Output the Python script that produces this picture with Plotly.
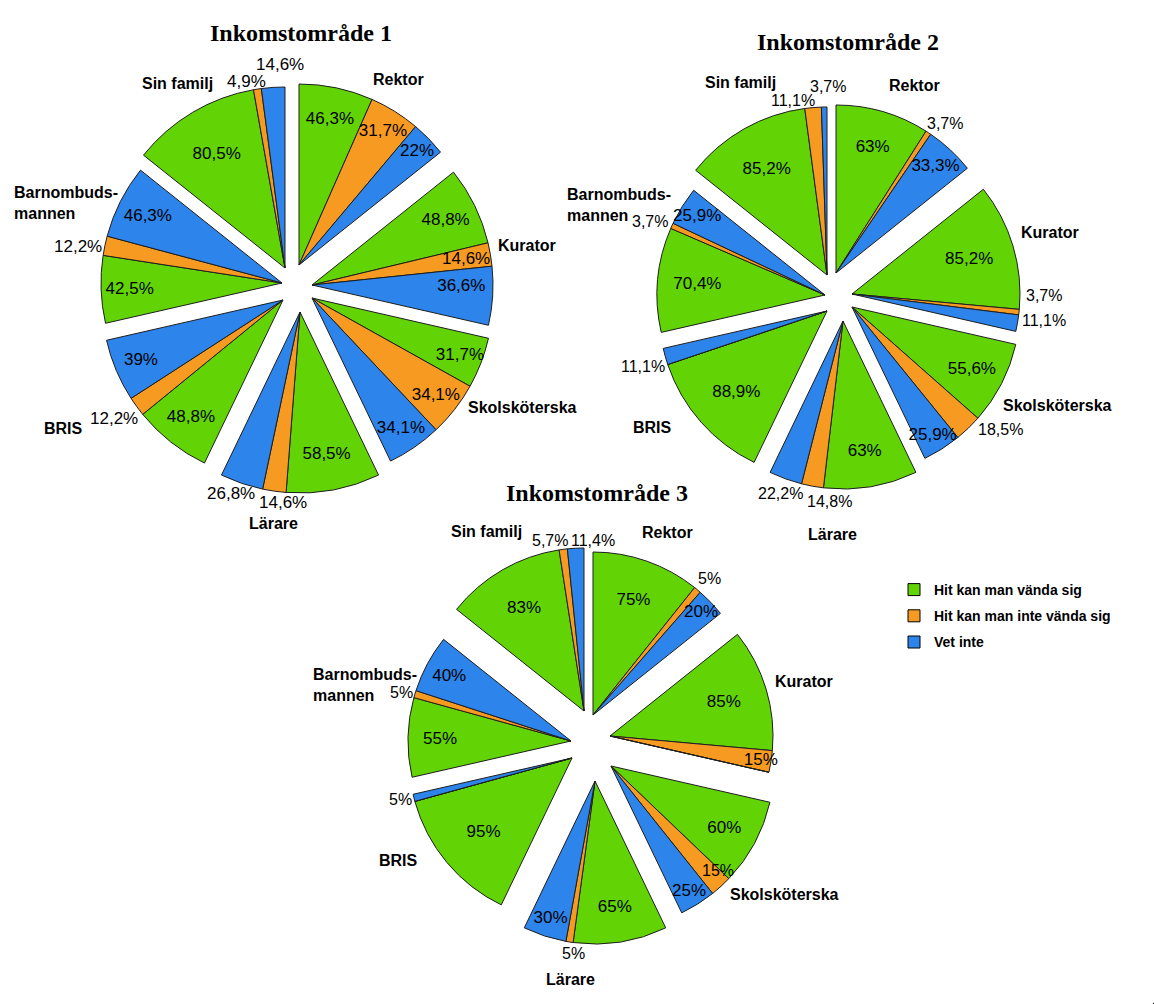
import plotly.graph_objects as go

W, H = 1154, 1004

# ---------------- data ----------------
categories = ["Rektor", "Kurator", "Skolsköterska", "Lärare", "BRIS",
              "Barnombudsmannen", "Sin familj"]
answers = ["Hit kan man vända sig", "Hit kan man inte vända sig", "Vet inte"]
titles = ["Inkomstområde 1", "Inkomstområde 2", "Inkomstområde 3"]

omr1_kan = [46.3, 48.8, 31.7, 58.5, 48.8, 42.5, 80.5]
omr1_kan_inte = [31.7, 14.6, 34.1, 14.6, 12.2, 12.2, 4.9]
omr1_vet_inte = [22, 36.6, 34.1, 26.8, 39, 46.3, 14.6]

omr2_kan = [63, 85.2, 55.6, 63, 88.9, 70.4, 85.2]
omr2_kan_inte = [3.7, 3.7, 18.5, 14.8, 0, 3.7, 11.1]
omr2_vet_inte = [33.3, 11.1, 25.9, 22.2, 11.1, 25.9, 3.7]

omr3_kan = [75, 85, 60, 65, 95, 55, 83]
omr3_kan_inte = [5, 15, 15, 5, 0, 5, 5.7]
omr3_vet_inte = [20, 0, 25, 30, 5, 40, 11.4]

# ---------------- style / layout ----------------
colors = ["#62D406", "#F79A22", "#2D84EB"]
edge = "#1e1e1e"
sans = "Liberation Sans, Arial, sans-serif"
serif = "Liberation Serif, Times New Roman, serif"

# per chart: wedge apex pixel positions (exploded sectors), radius, label placement.
# "placed": pixel centre for percentage labels positioned explicitly (outside / on edge),
# keyed by (category index, answer index).
charts = [
    dict(title=titles[0], series=(omr1_kan, omr1_kan_inte, omr1_vet_inte),
         radius=181, fs=17, title_pos=(301, 33),
         apex=[(299, 265), (312, 285), (312, 298), (300, 312), (283, 300), (282, 283), (285, 268)],
         placed={(6, 1): (246, 81), (6, 2): (280, 65), (3, 2): (231, 493), (3, 1): (283, 502),
                 (4, 1): (114, 418), (5, 1): (78, 246), (1, 1): (466, 258)},
         labels=[((398, 79), "center"), ((527, 245), "center"), ((522, 407), "center"),
                 ((273, 523), "center"), ((63, 428), "center"), ((12, 203), "left"),
                 ((177, 83), "center")]),
    dict(title=titles[1], series=(omr2_kan, omr2_kan_inte, omr2_vet_inte),
         radius=168, fs=16, title_pos=(848, 42),
         apex=[(836, 273), (852, 294), (852, 307), (843, 321), (827, 311), (825, 295), (827, 275)],
         placed={(0, 1): (945, 123), (1, 1): (1044, 296), (1, 2): (1044, 321),
                 (2, 1): (1000, 429), (3, 2): (780, 493), (3, 1): (829, 501),
                 (4, 2): (643, 366), (5, 1): (650, 221), (6, 1): (793, 100), (6, 2): (828, 86)},
         labels=[((914, 85), "center"), ((1050, 232), "center"), ((1057, 405), "center"),
                 ((832, 534), "center"), ((652, 427), "center"), ((565, 205), "left"),
                 ((740, 82), "center")]),
    dict(title=titles[2], series=(omr3_kan, omr3_kan_inte, omr3_vet_inte),
         radius=163, fs=16, title_pos=(597, 493),
         apex=[(593, 715), (610, 736), (611, 766), (595, 781), (572, 758), (571, 741), (584, 711)],
         placed={(0, 1): (709, 578), (3, 1): (573, 953), (4, 2): (400, 799), (5, 1): (401, 692),
                 (6, 1): (550, 540), (6, 2): (593, 540), (2, 1): (718, 870)},
         labels=[((667, 532), "center"), ((804, 681), "center"), ((784, 894), "center"),
                 ((570, 979), "center"), ((398, 860), "center"), ((311, 685), "left"),
                 ((486, 531), "center")]),
]


def fmt(v):
    if v == 0:
        return ""
    return f"{v:g}".replace(".", ",") + "%"


fig = go.Figure()
annotations = []
n = len(categories)

for ch in charts:
    R = ch["radius"]
    for k, cat in enumerate(categories):
        vals = [s[k] for s in ch["series"]]
        total = sum(vals)
        values = vals + [total * (n - 1)]          # invisible rest of the circle
        inside_text = []
        for j, v in enumerate(vals):
            if (k, j) in ch["placed"]:
                inside_text.append("")
                px, py = ch["placed"][(k, j)]
                annotations.append(dict(text=fmt(v), x=px / W, y=1 - py / H,
                                        xref="paper", yref="paper", showarrow=False,
                                        xanchor="center", yanchor="middle",
                                        font=dict(family=sans, size=ch["fs"], color="black")))
            else:
                inside_text.append(fmt(v))
        tx, ty = ch["apex"][k]
        dom = dict(x=[(tx - R) / W, (tx + R) / W],
                   y=[1 - (ty + R) / H, 1 - (ty - R) / H])
        fig.add_trace(go.Pie(
            name=f"{ch['title']} – {cat}",
            values=values,
            labels=answers + ["_rest"],
            text=inside_text + [""],
            hovertext=[fmt(v) for v in vals] + [""],
            textinfo="text",
            textposition="inside",
            insidetextorientation="horizontal",
            textfont=dict(family=sans, size=ch["fs"], color="black"),
            sort=False,
            direction="clockwise",
            rotation=k * 360 / n,
            domain=dom,
            marker=dict(colors=colors + ["rgba(0,0,0,0)"],
                        line=dict(color=[edge, edge, edge, "rgba(0,0,0,0)"],
                                  width=[1, 1, 1, 0])),
            hoverinfo=["name+label+text"] * 3 + ["skip"],
            showlegend=False,
        ))

# legend entries (tiny, invisible pies carrying the three answer categories)
for i, a in enumerate(answers):
    fig.add_trace(go.Pie(
        values=[1], labels=[a], sort=False,
        marker=dict(colors=[colors[i]], line=dict(color="black", width=1)),
        domain=dict(x=[0.9995, 1], y=[0, 0.0005]),
        textinfo="none", hoverinfo="skip",
        legendgroup=a, showlegend=True,
    ))

for ch in charts:
    x, y = ch["title_pos"]
    annotations.append(dict(text=ch["title"], x=x / W, y=1 - y / H, xref="paper", yref="paper",
                            xanchor="center", yanchor="middle", showarrow=False,
                            font=dict(family=serif, size=24, color="black", weight="bold")))
    for k, cat in enumerate(categories):
        (x, y), anchor = ch["labels"][k]
        txt = "Barnombuds-<br>mannen" if cat == "Barnombudsmannen" else cat
        annotations.append(dict(text=txt, x=x / W, y=1 - y / H, xref="paper", yref="paper",
                                xanchor=anchor, yanchor="middle", align="left",
                                showarrow=False,
                                font=dict(family=sans, size=16, color="black", weight="bold")))

fig.update_layout(
    width=W, height=H,
    margin=dict(l=0, r=0, t=0, b=0),
    paper_bgcolor="white", plot_bgcolor="white",
    font=dict(family=sans, color="black"),
    uniformtext=dict(minsize=17, mode="show"),
    annotations=annotations,
    legend=dict(x=894 / W, y=1 - 574 / H, xanchor="left", yanchor="top",
                font=dict(family=sans, size=14, color="black", weight="bold"),
                traceorder="grouped", tracegroupgap=5, bgcolor="rgba(0,0,0,0)"),
)

fig.write_html("out.html", config={"displayModeBar": False},
               post_script="document.body.style.margin='0';document.body.style.overflow='hidden';")
